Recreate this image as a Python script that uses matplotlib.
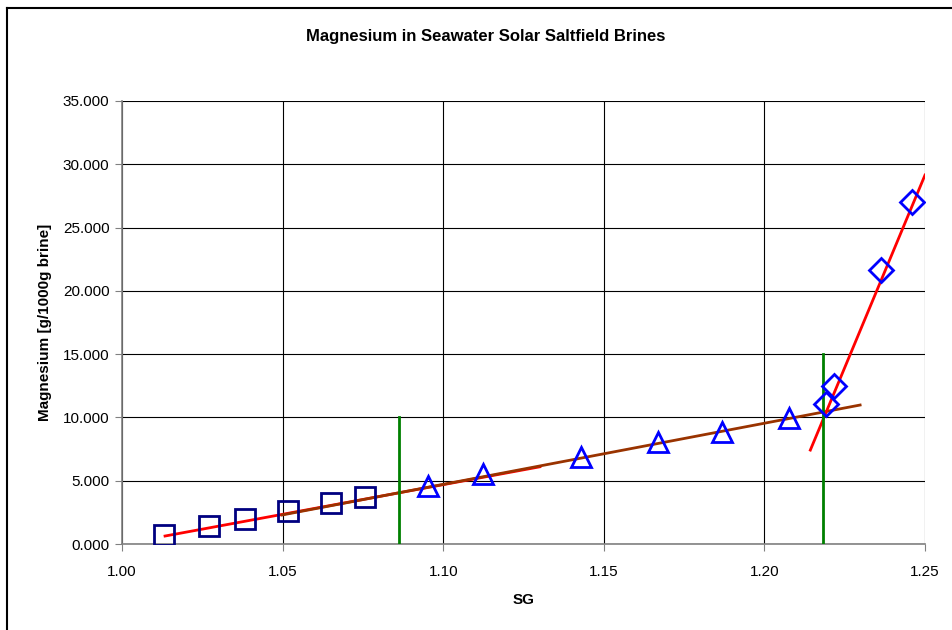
import matplotlib.pyplot as plt
from matplotlib.lines import Line2D
from matplotlib.ticker import FormatStrFormatter

plt.rcParams["font.family"] = ["Liberation Sans", "DejaVu Sans"]

# data
sg_sq = [1.0131, 1.0271, 1.0383, 1.0517, 1.0651, 1.0757]
mg_sq = [0.71, 1.42, 1.97, 2.61, 3.24, 3.71]

sg_tri = [1.0953, 1.1124, 1.1429, 1.1669, 1.1868, 1.2077]
mg_tri = [4.58, 5.53, 6.87, 8.06, 8.85, 9.95]

sg_dia = [1.2192, 1.2217, 1.2363, 1.2460]
mg_dia = [11.06, 12.48, 21.64, 27.01]

# trend lines (end points)
fit1_x = [1.0134, 1.1301]
fit1_y = [0.63, 6.10]
fit2_x = [1.0498, 1.2298]
fit2_y = [2.29, 10.98]
fit3_x = [1.2143, 1.2500]
fit3_y = [7.42, 29.15]

# vertical markers
vl1_x, vl1_y = [1.0862, 1.0862], [0, 10]
vl2_x, vl2_y = [1.2183, 1.2183], [0, 15]

fig = plt.figure(figsize=(9.53, 6.30), dpi=100)
ax = fig.add_axes([122 / 953, 1 - 544 / 630, (925 - 122) / 953, (544 - 101) / 630])

ax.plot(fit1_x, fit1_y, color="red", lw=2, zorder=3)
ax.plot(fit2_x, fit2_y, color="#993300", lw=2, zorder=3)
ax.plot(fit3_x, fit3_y, color="red", lw=2, zorder=3)
ax.plot(vl1_x, vl1_y, color="green", lw=2, zorder=3)
ax.plot(vl2_x, vl2_y, color="green", lw=2, zorder=3)

ax.plot(sg_sq, mg_sq, ls="none", marker="s", ms=14, mfc="none", mec="#000080", mew=2, zorder=4)
ax.plot(sg_tri, mg_tri, ls="none", marker="^", ms=15, mfc="none", mec="blue", mew=2, zorder=4)
ax.plot(sg_dia, mg_dia, ls="none", marker="D", ms=12, mfc="none", mec="blue", mew=2, zorder=4)

ax.set_xlim(1.0, 1.25)
ax.set_ylim(0, 35)
ax.set_xticks([1.00, 1.05, 1.10, 1.15, 1.20, 1.25])
ax.set_yticks(range(0, 36, 5))
ax.xaxis.set_major_formatter(FormatStrFormatter("%.2f"))
ax.yaxis.set_major_formatter(FormatStrFormatter("%.3f"))
ax.grid(True, color="black", lw=0.8)
ax.set_axisbelow(True)
for s in ["top", "right"]:
    ax.spines[s].set_visible(False)
for s in ["left", "bottom"]:
    ax.spines[s].set_color("#808080")
    ax.spines[s].set_linewidth(1.2)
    ax.spines[s].set_zorder(2.5)
ax.tick_params(direction="out", length=5, color="#808080", labelsize=11)
ax.tick_params(axis="x", pad=10)
ax.tick_params(axis="y", pad=4)

ax.set_xlabel("SG", fontsize=11, fontweight="bold", labelpad=10)
ax.set_ylabel("Magnesium [g/1000g brine]", fontsize=11, fontweight="bold", labelpad=8)
fig.text(486 / 953, 1 - 37 / 630, "Magnesium in Seawater Solar Saltfield Brines",
         ha="center", va="center", fontsize=12, fontweight="bold")

# chart border
fig.add_artist(Line2D([7 / 953, 1], [1 - 8 / 630] * 2, color="black", lw=1.5))
fig.add_artist(Line2D([7 / 953] * 2, [0, 1 - 8 / 630], color="black", lw=1.5))

fig.savefig("out.png", dpi=100)
